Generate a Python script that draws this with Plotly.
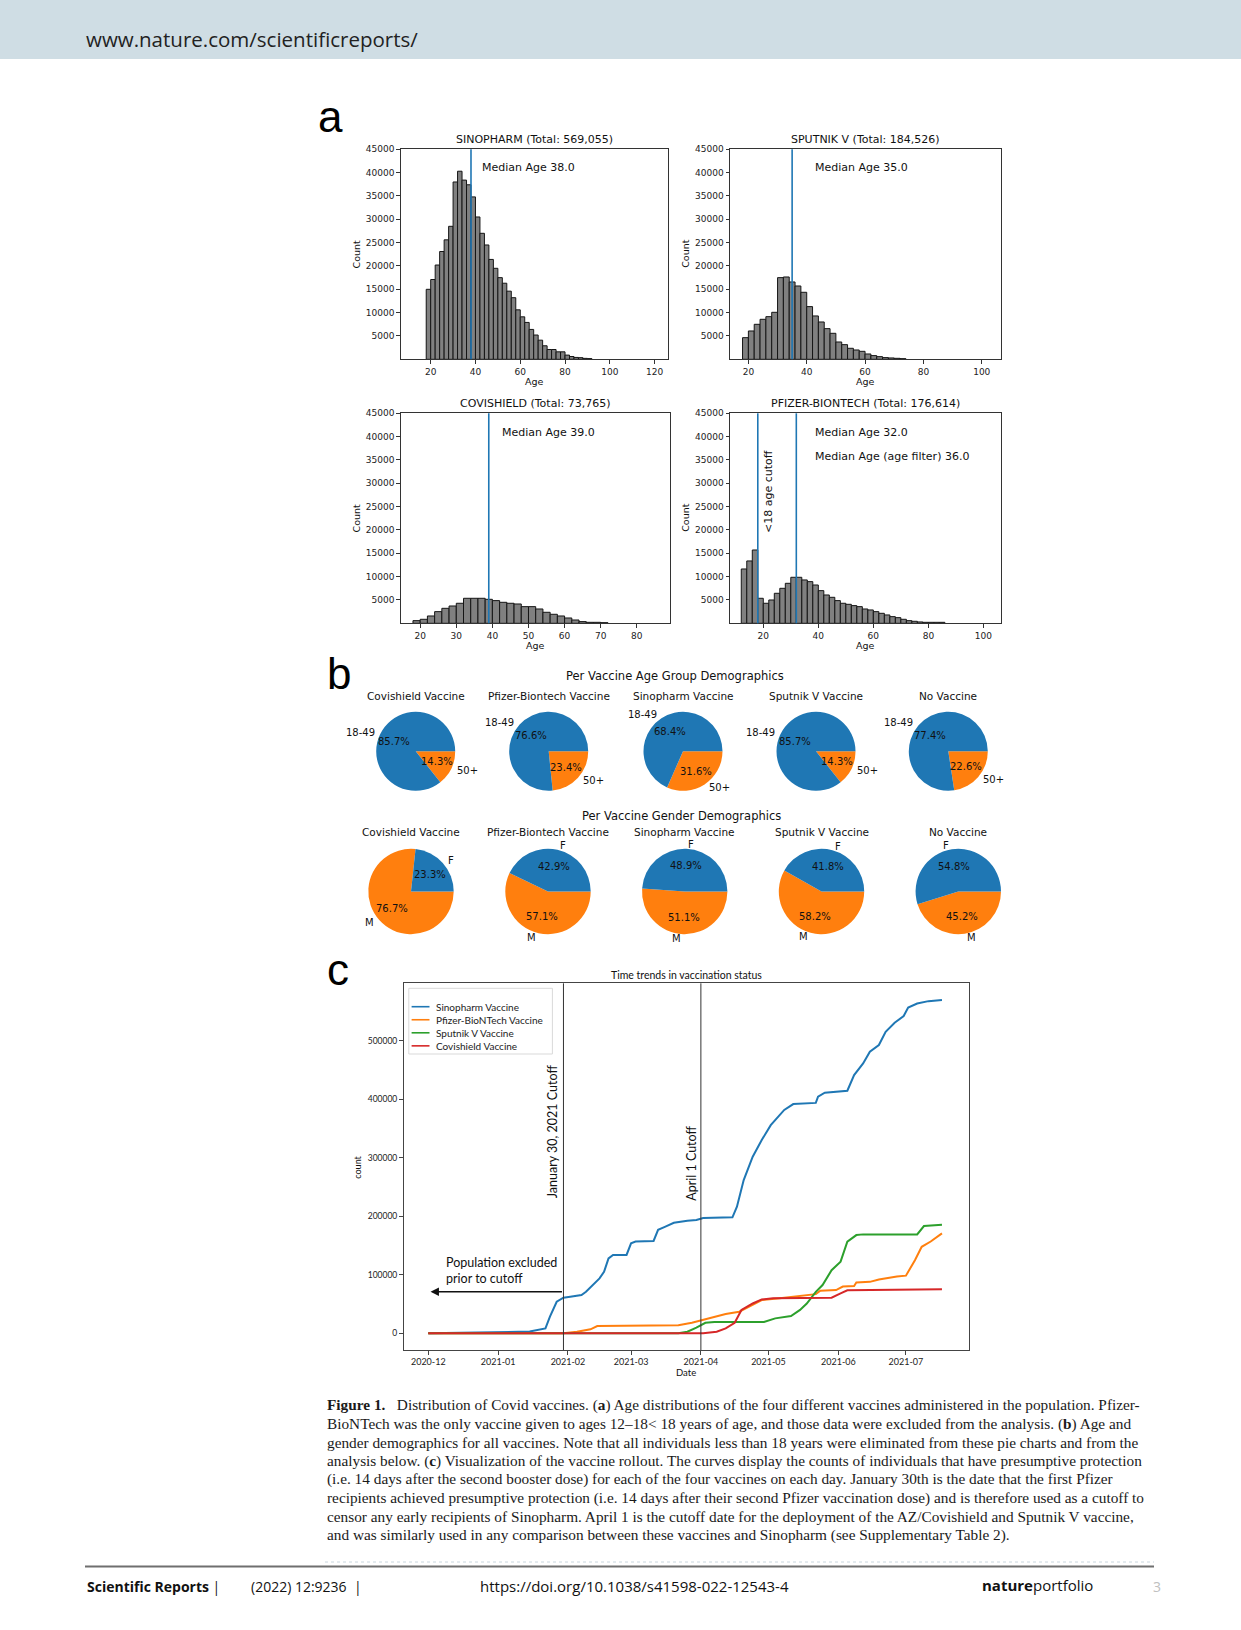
import math
import plotly.graph_objects as go

W, H = 1241, 1630

# ---------------- DATA ----------------
# Panel a: age histograms, 2-year bins
bin_width = 2
sinopharm_bin_start = 18
sinopharm_counts = [15000, 17100, 20200, 23100, 25600, 28500, 38000, 40300, 38400, 37400,
                    34800, 30500, 27000, 24500, 21400, 19500, 17500, 16300, 14600, 13200,
                    10600, 9100, 7900, 6400, 5200, 4100, 2900, 2100, 2100, 1600,
                    1600, 900, 600, 400, 350, 200, 150]
sputnik_bin_start = 18
sputnik_counts = [4640, 6070, 7500, 8570, 9140, 10070, 17500, 17640, 16570, 15710,
                  14360, 11290, 9290, 8000, 6570, 5570, 3710, 3140, 2360, 2000,
                  1710, 1140, 790, 570, 360, 290, 210, 140]
covishield_bin_start = 18
covishield_counts = [570, 860, 1570, 2500, 3210, 3710, 4290, 5360, 5360, 5360,
                     5140, 4860, 4500, 4290, 4140, 3570, 3570, 3070, 2360, 1930,
                     1570, 1140, 710, 360, 210, 210, 140]
pfizer_bin_start = 12
pfizer_counts = [11640, 13360, 15710, 5360, 4290, 5000, 6430, 7500, 8570, 9860,
                 9860, 9290, 8930, 8210, 7000, 6070, 5570, 4860, 4290, 4070,
                 3790, 3570, 3070, 2860, 2500, 2140, 1790, 1430, 1210, 860,
                 570, 430, 290, 210, 210, 210, 210]
hist_names = ["SINOPHARM", "SPUTNIK V", "COVISHIELD", "PFIZER-BIONTECH"]
hist_totals = ["569,055", "184,526", "73,765", "176,614"]
median_ages = [38.0, 35.0, 39.0, 32.0]
pfizer_median_filtered = 36.0
age_cutoff = 18
count_ticks = [5000, 10000, 15000, 20000, 25000, 30000, 35000, 40000, 45000]

# Panel b: pie charts
pie_vaccines = ["Covishield Vaccine", "Pfizer-Biontech Vaccine", "Sinopharm Vaccine",
                "Sputnik V Vaccine", "No Vaccine"]
age_labels = ["18-49", "50+"]
age_pct = [[85.7, 14.3], [76.6, 23.4], [68.4, 31.6], [85.7, 14.3], [77.4, 22.6]]
gender_labels = ["F", "M"]
gender_pct = [[23.3, 76.7], [42.9, 57.1], [48.9, 51.1], [41.8, 58.2], [54.8, 45.2]]

# Panel c: cumulative counts with presumptive protection
sino_dates = ["2020-12-01", "2021-01-15", "2021-01-22", "2021-01-24", "2021-01-27", "2021-01-30",
              "2021-02-02", "2021-02-07", "2021-02-09", "2021-02-12", "2021-02-15", "2021-02-17",
              "2021-02-19", "2021-02-21", "2021-02-27", "2021-03-01", "2021-03-03", "2021-03-11",
              "2021-03-13", "2021-03-16", "2021-03-20", "2021-03-26", "2021-03-30", "2021-04-02",
              "2021-04-15", "2021-04-17", "2021-04-20", "2021-04-24", "2021-04-28", "2021-05-02",
              "2021-05-06", "2021-05-08", "2021-05-12", "2021-05-22", "2021-05-23", "2021-05-26",
              "2021-06-05", "2021-06-08", "2021-06-12", "2021-06-15", "2021-06-19", "2021-06-22",
              "2021-06-26", "2021-06-30", "2021-07-02", "2021-07-06", "2021-07-11", "2021-07-17"]
sino_vals = [0, 3000, 8500, 28500, 54000, 61000,
             62700, 65500, 71000, 82600, 94000, 105000,
             128000, 134000, 134000, 154000, 157000, 158000,
             177000, 182000, 189000, 192600, 193700, 197000,
             198300, 216500, 262000, 302000, 330500, 356000,
             373000, 382000, 392000, 394000, 404600, 411400,
             414800, 441600, 461500, 481500, 492900, 515700,
             531000, 542500, 557000, 564000, 568000, 570000]
pfizer_dates = ["2020-12-01", "2021-01-30", "2021-02-05", "2021-02-11", "2021-02-14", "2021-02-21",
                "2021-03-22", "2021-03-28", "2021-04-02", "2021-04-07", "2021-04-12", "2021-04-18",
                "2021-04-21", "2021-04-25", "2021-04-28", "2021-05-06", "2021-05-13", "2021-05-22",
                "2021-05-24", "2021-05-31", "2021-06-03", "2021-06-08", "2021-06-09", "2021-06-15",
                "2021-06-19", "2021-06-22", "2021-06-27", "2021-07-01", "2021-07-05", "2021-07-08",
                "2021-07-12", "2021-07-17"]
pfizer_vals = [0, 0, 2800, 6800, 12500, 13000,
               14000, 18000, 23000, 28500, 33000, 37000,
               42700, 51000, 57000, 60000, 62700, 67000,
               73000, 74000, 80000, 81000, 87000, 88000,
               92000, 94000, 97000, 98600, 125000, 148000,
               157000, 171000]
sputnik_dates = ["2020-12-01", "2021-03-22", "2021-03-26", "2021-03-30", "2021-04-03", "2021-04-07",
                 "2021-04-29", "2021-05-04", "2021-05-11", "2021-05-15", "2021-05-18", "2021-05-22",
                 "2021-05-25", "2021-05-29", "2021-06-02", "2021-06-05", "2021-06-09", "2021-06-12",
                 "2021-07-06", "2021-07-09", "2021-07-17"]
sputnik_vals = [0, 0, 2800, 9700, 18000, 19400,
                19400, 25600, 29600, 40000, 51000, 71000,
                82600, 108000, 122500, 156700, 168000, 169200,
                169200, 183500, 185800]
covi_dates = ["2020-12-01", "2021-04-02", "2021-04-08", "2021-04-12", "2021-04-16", "2021-04-19",
              "2021-04-24", "2021-04-28", "2021-05-03", "2021-05-29", "2021-06-02", "2021-06-05",
              "2021-07-17"]
covi_vals = [0, 0, 2800, 8500, 18000, 40000,
             51000, 58000, 60000, 61000, 68400, 73500,
             75200]
line_names = ["Sinopharm Vaccine", "Pfizer-BioNTech Vaccine", "Sputnik V Vaccine", "Covishield Vaccine"]
line_colors = ["#1f77b4", "#ff7f0e", "#2ca02c", "#d62728"]
line_series = list(zip(line_names, [sino_dates, pfizer_dates, sputnik_dates, covi_dates],
                       [sino_vals, pfizer_vals, sputnik_vals, covi_vals], line_colors))
cutoff_dates = ["2021-01-30", "2021-04-01"]
cutoff_texts = ["January 30, 2021 Cutoff", "April 1 Cutoff"]
count_ticks_c = [0, 100000, 200000, 300000, 400000, 500000]
date_ticks = ["2020-12-01", "2021-01-01", "2021-02-01", "2021-03-01", "2021-04-01",
              "2021-05-01", "2021-06-01", "2021-07-01"]

caption_lines = [
    "<b>Figure 1.</b>   Distribution of Covid vaccines. (<b>a</b>) Age distributions of the four different vaccines administered in the population. Pfizer-",
    "BioNTech was the only vaccine given to ages 12–18< 18 years of age, and those data were excluded from the analysis. (<b>b</b>) Age and",
    "gender demographics for all vaccines. Note that all individuals less than 18 years were eliminated from these pie charts and from the",
    "analysis below. (<b>c</b>) Visualization of the vaccine rollout. The curves display the counts of individuals that have presumptive protection",
    "(i.e. 14 days after the second booster dose) for each of the four vaccines on each day. January 30th is the date that the first Pfizer",
    "recipients achieved presumptive protection (i.e. 14 days after their second Pfizer vaccination dose) and is therefore used as a cutoff to",
    "censor any early recipients of Sinopharm. April 1 is the cutoff date for the deployment of the AZ/Covishield and Sputnik V vaccine,",
    "and was similarly used in any comparison between these vaccines and Sinopharm (see Supplementary Table 2).",
]

# ---------------- HELPERS ----------------
def fx(x):
    return x / W


def fy(y):
    return 1 - y / H


MPL = "DejaVu Sans"
annotations = []
shapes = []
fig = go.Figure()
layout = dict(width=W, height=H, autosize=False, margin=dict(l=0, r=0, t=0, b=0, pad=0),
              paper_bgcolor="white", plot_bgcolor="white", showlegend=False,
              template="none")


def ann(x, y, text, size, family=MPL, color="#111", xanchor="center", yanchor="middle",
        angle=0, xref="paper", yref="paper", **kw):
    d = dict(x=x, y=y, text=text, showarrow=False, xref=xref, yref=yref,
             xanchor=xanchor, yanchor=yanchor, textangle=angle,
             font=dict(family=family, size=size, color=color))
    d.update(kw)
    annotations.append(d)


def pann(xp, yp, text, size, **kw):
    ann(fx(xp), fy(yp), text, size, **kw)


def pline(x0, y0, x1, y1, color, width, dash="solid"):
    shapes.append(dict(type="line", xref="paper", yref="paper", x0=fx(x0), x1=fx(x1),
                       y0=fy(y0), y1=fy(y1), line=dict(color=color, width=width, dash=dash)))


# ---------------- HEADER / FOOTER ----------------
shapes.append(dict(type="rect", xref="paper", yref="paper", x0=0, x1=1, y0=fy(59), y1=1,
                   fillcolor="#cfdde4", line=dict(width=0), layer="below"))
pann(84, 39, "www.nature.com/scientificreports/", 20.5, family="Open Sans", color="#222",
     xanchor="left")
pline(325, 1562, 1154, 1562, "#c9d6de", 1, "dot")
pline(85, 1566.5, 1154, 1566.5, "#6f6f6f", 2)
pann(85, 1586, "<b>Scientific Reports</b> |", 14, family="Open Sans", xanchor="left")
pann(249, 1586, "(2022) 12:9236  |", 14, family="Open Sans", xanchor="left")
pann(478, 1586, "https://doi.org/10.1038/s41598-022-12543-4", 15, family="Open Sans",
     xanchor="left")
pann(980, 1585, "<b>nature</b>portfolio", 15, family="Open Sans", xanchor="left")
pann(1151, 1586, "3", 14, family="Open Sans", color="#c0c0c0", xanchor="left")

# panel letters
pann(330, 116, "a", 44, family="Liberation Sans", color="#000")
pann(339, 673, "b", 44, family="Liberation Sans", color="#000")
pann(338, 969, "c", 44, family="Liberation Sans", color="#000")

# ---------------- PANEL A ----------------
hist_data = [(sinopharm_bin_start, sinopharm_counts), (sputnik_bin_start, sputnik_counts),
             (covishield_bin_start, covishield_counts), (pfizer_bin_start, pfizer_counts)]
hist_geom = [((400.7, 668), (149.3, 359.3), [6.6, 126], [20, 40, 60, 80, 100, 120]),
             ((730, 1001), (149.3, 359.3), [13.7, 106.6], [20, 40, 60, 80, 100]),
             ((400.7, 670), (413.3, 623.3), [14.6, 89.2], [20, 30, 40, 50, 60, 70, 80]),
             ((730, 1001), (413.3, 623.3), [7.9, 106.4], [20, 40, 60, 80, 100])]
median_text_pos = [(42, 41000), (42, 41000), (42, 40850), (38, 40780)]

for i, ((start, counts), (gx, gy, xr, xt)) in enumerate(zip(hist_data, hist_geom)):
    n = "" if i == 0 else str(i + 1)
    xid, yid = "x" + n, "y" + n
    centers = [start + bin_width * (k + 0.5) for k in range(len(counts))]
    fig.add_trace(go.Bar(x=centers, y=counts, width=bin_width, xaxis=xid, yaxis=yid,
                         marker=dict(color="#808080", line=dict(color="#151515", width=1)),
                         showlegend=False, hoverinfo="x+y"))
    axstyle = dict(showline=True, mirror=True, linecolor="#333", linewidth=1, ticks="outside",
                   ticklen=3.5, tickcolor="#333", showgrid=False, zeroline=False,
                   automargin=False, tickformat="d",
                   tickfont=dict(family=MPL, size=9, color="#222"))
    layout["xaxis" + n] = dict(domain=[fx(gx[0]), fx(gx[1])], range=xr, tickvals=xt,
                               anchor=yid, **axstyle)
    layout["yaxis" + n] = dict(domain=[fy(gy[1]), fy(gy[0])], range=[0, 45000],
                               tickvals=count_ticks, anchor=xid, **axstyle)
    pann((gx[0] + gx[1]) / 2, gy[0] - 9.5,
         f"{hist_names[i]} (Total: {hist_totals[i]})", 11)
    pann((gx[0] + gx[1]) / 2, gy[1] + 22, "Age", 9.5)
    pann(gx[0] - 44.5, (gy[0] + gy[1]) / 2, "Count", 9.5, angle=-90)
    shapes.append(dict(type="line", xref=xid, yref=yid + " domain", x0=median_ages[i],
                       x1=median_ages[i], y0=0, y1=1, line=dict(color="#1f77b4", width=1.6)))
    tx, ty = median_text_pos[i]
    ann(tx, ty, f"Median Age {median_ages[i]:.1f}", 11, xref=xid, yref=yid, xanchor="left")
    if i == 3:
        shapes.append(dict(type="line", xref=xid, yref=yid + " domain", x0=age_cutoff,
                           x1=age_cutoff, y0=0, y1=1, line=dict(color="#1f77b4", width=1.6)))
        ann(38, 35700, f"Median Age (age filter) {pfizer_median_filtered:.1f}", 11,
            xref=xid, yref=yid, xanchor="left")
        ann(21.8, 28200, "<18 age cutoff", 11, xref=xid, yref=yid, angle=-90)

# ---------------- PANEL B ----------------
pie_rows = [
    dict(pcts=age_pct, labels=age_labels, cy=751.3, r=39.5,
         cxs=[415.7, 548.7, 683.0, 816.0, 948.3], title_y=695.5,
         sup="Per Vaccine Age Group Demographics", sup_y=676, sup_x=675),
    dict(pcts=gender_pct, labels=gender_labels, cy=891.5, r=42.7,
         cxs=[411.0, 548.0, 684.7, 821.5, 958.3], title_y=831.7,
         sup="Per Vaccine Gender Demographics", sup_y=816, sup_x=681.5),
]
pie_colors = ["#1f77b4", "#ff7f0e"]
for row in pie_rows:
    pann(row["sup_x"], row["sup_y"], row["sup"], 11.5)
    for j, cx in enumerate(row["cxs"]):
        cy, r = row["cy"], row["r"]
        vals = row["pcts"][j]
        # matplotlib order: first wedge starts at 3 o'clock and runs counterclockwise;
        # in plotly, feed the wedges reversed and run them clockwise from 3 o'clock.
        fig.add_trace(go.Pie(values=vals[::-1], labels=row["labels"][::-1], sort=False,
                             direction="clockwise", rotation=90, textinfo="none",
                             marker=dict(colors=pie_colors[::-1]), showlegend=False,
                             domain=dict(x=[fx(cx - r), fx(cx + r)], y=[fy(cy + r), fy(cy - r)])))
        pann(cx, row["title_y"], pie_vaccines[j], 10.5)
        total = sum(vals)
        cum = 0.0
        for k, v in enumerate(vals):
            a0 = 360.0 * cum / total
            cum += v
            a1 = 360.0 * cum / total
            mid = math.radians((a0 + a1) / 2)
            lx = cx + 1.1 * r * math.cos(mid)
            ly = cy - 1.1 * r * math.sin(mid)
            pann(lx, ly, row["labels"][k], 10,
                 xanchor="left" if math.cos(mid) > 0 else "right")
            px_ = cx + 0.6 * r * math.cos(mid)
            py_ = cy - 0.6 * r * math.sin(mid)
            pann(px_, py_, f"{v:.1f}%", 10)

# ---------------- PANEL C ----------------
LF = "Lato"
for name, d, v, c in line_series:
    fig.add_trace(go.Scatter(x=d, y=v, mode="lines", name=name, xaxis="x5", yaxis="y5",
                             line=dict(color=c, width=2), showlegend=False))
cgx, cgy = (403.5, 969), (983.3, 1350)
layout["xaxis5"] = dict(domain=[fx(cgx[0]), fx(cgx[1])], range=["2020-11-20", "2021-07-29"],
                        type="date", tickvals=date_ticks, tickformat="%Y-%m", anchor="y5",
                        showline=True, mirror=True, linecolor="#444", linewidth=1,
                        ticks="outside", ticklen=3.5, tickcolor="#444", showgrid=False,
                        zeroline=False, automargin=False,
                        tickfont=dict(family=LF, size=9, color="#222"))
layout["yaxis5"] = dict(domain=[fy(cgy[1]), fy(cgy[0])], range=[-28500, 598500],
                        tickvals=count_ticks_c, tickformat="d", anchor="x5",
                        showline=True, mirror=True, linecolor="#444", linewidth=1,
                        ticks="outside", ticklen=3.5, tickcolor="#444", showgrid=False,
                        zeroline=False, automargin=False,
                        tickfont=dict(family=LF, size=8.5, color="#222"))
# legend box (framed key matching the compact matplotlib legend)
shapes.append(dict(type="rect", xref="paper", yref="paper", x0=fx(408.8), x1=fx(552.4),
                   y0=fy(1054), y1=fy(988.3), fillcolor="white",
                   line=dict(color="#d9d9d9", width=1)))
for k, (name, color) in enumerate(zip(line_names, line_colors)):
    yk = 1006.7 + k * 13.05
    pline(411.6, yk, 429.5, yk, color, 1.6)
    pann(434, yk, name, 10, family=LF, color="#222", xanchor="left")
for dte in cutoff_dates:
    shapes.append(dict(type="line", xref="x5", yref="y5 domain", x0=dte, x1=dte, y0=0, y1=1,
                       line=dict(color="#333", width=1)))
pann(552.5, 1131.7, cutoff_texts[0], 12.5, family=LF, color="#111", angle=-90)
pann(692, 1163.7, cutoff_texts[1], 12.5, family=LF, color="#111", angle=-90)
pann(443.5, 1262.7, "Population excluded", 12.5, family=LF, xanchor="left")
pann(443.5, 1278.3, "prior to cutoff", 12.5, family=LF, xanchor="left")
annotations.append(dict(x="2020-12-02", y=71000, ax=cutoff_dates[0], ay=71000,
                        xref="x5", yref="y5", axref="x5", ayref="y5", text="",
                        showarrow=True, arrowhead=2, arrowsize=1.2, arrowwidth=1.4,
                        arrowcolor="#111"))
pann((cgx[0] + cgx[1]) / 2, 974.5, "Time trends in vaccination status", 10.5, family=LF)
pann((cgx[0] + cgx[1]) / 2, 1372, "Date", 9.5, family=LF)
pann(358, 1167.7, "count", 9, family=LF, angle=-90)

# ---------------- CAPTION ----------------
for i, line in enumerate(caption_lines):
    pann(325, 1405 + i * 18.6, line, 15.3, family="Liberation Serif", color="#1a1a1a",
         xanchor="left")

layout["annotations"] = annotations
layout["shapes"] = shapes
fig.update_layout(**layout)

pin_page = (
    "document.documentElement.style.margin='0px';"
    "document.documentElement.style.padding='0px';"
    "document.body.style.margin='0px';"
    "document.body.style.padding='0px';"
    "document.body.style.overflow='hidden';"
    "var gd=document.getElementById('{plot_id}');"
    "gd.style.position='absolute';gd.style.left='0px';gd.style.top='0px';"
    "window.scrollTo(0,0);"
)
fig.write_html("out.html", config={"displayModeBar": False}, post_script=pin_page)
